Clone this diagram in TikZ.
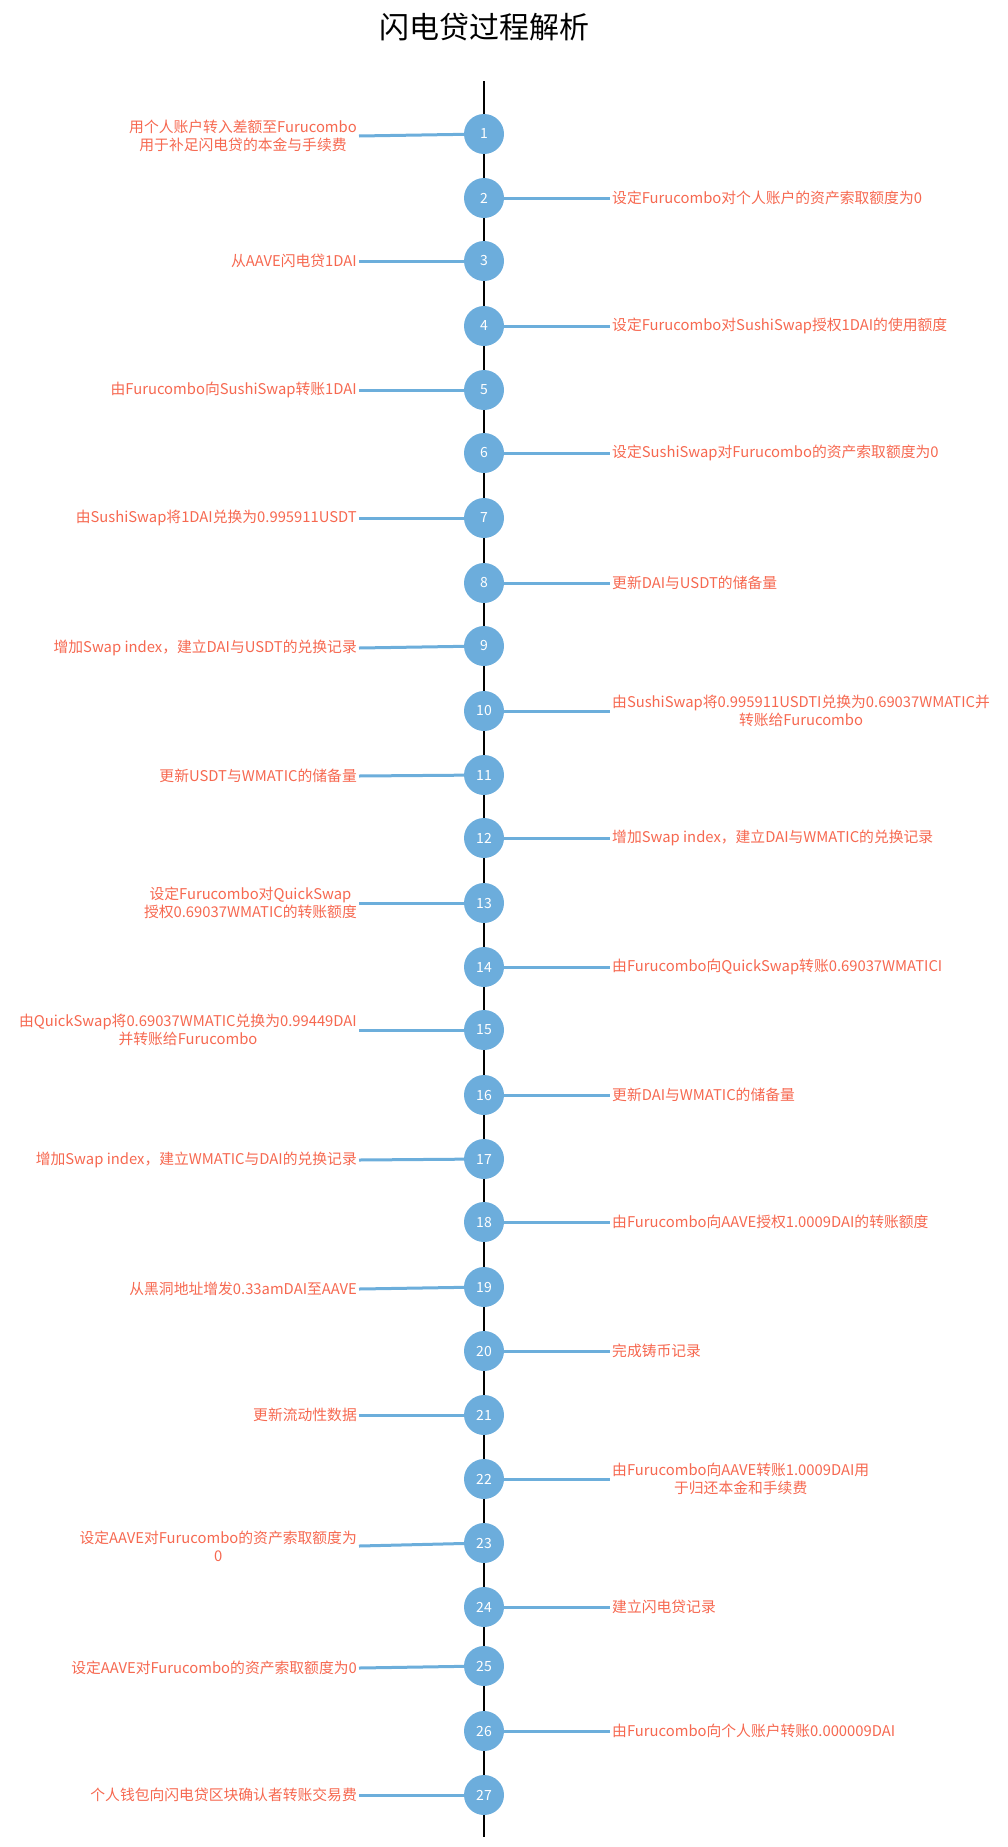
\documentclass[tikz,border=0pt]{standalone}
\usepackage{fontspec}
\setmainfont{Noto Sans CJK SC}
\definecolor{nodeblue}{RGB}{108,173,220}
\definecolor{lineblue}{RGB}{108,174,219}
\definecolor{labelred}{RGB}{246,104,80}
\begin{document}
\begin{tikzpicture}[x=1pt,y=-1pt,
  stepnode/.style={circle,fill=nodeblue,minimum size=40pt,inner sep=0pt,text=white,font=\fontsize{14}{16}\selectfont},
  leftlabel/.style={anchor=east,inner xsep=2pt,inner ysep=0pt,align=center,text=labelred,font=\fontsize{14.8}{18}\selectfont},
  rightlabel/.style={anchor=west,inner xsep=2pt,inner ysep=0pt,align=center,text=labelred,font=\fontsize{14.8}{18}\selectfont},
  link/.style={draw=lineblue,line width=3pt},
  spine/.style={draw=black,line width=2pt}]
\useasboundingbox (0,0) rectangle (1008,1847);
\node[font=\fontsize{30}{33}\selectfont] (title) at (484,27) {闪电贷过程解析};
\coordinate (top) at (484,81);
\coordinate (bottom) at (484,1837);
\draw[spine] (top) -- (bottom);
\foreach \i/\y in {1/134,2/198,3/261,4/326,5/390,6/453,7/518,8/583,9/646,10/711,11/775,12/838,13/903,14/967,15/1030,16/1095,17/1159,18/1222,19/1287,20/1351,21/1415,22/1479,23/1543,24/1607,25/1666,26/1731,27/1795}
  \node[stepnode] (n\i) at (484,\y) {\i};
\foreach \i/\y/\txt in {
  1/136/{用个人账户转入差额至Furucombo\\用于补足闪电贷的本金与手续费},
  3/261/{从AAVE闪电贷1DAI},
  5/390/{由Furucombo向SushiSwap转账1DAI},
  7/518/{由SushiSwap将1DAI兑换为0.995911USDT},
  9/648/{增加Swap index，建立DAI与USDT的兑换记录},
  11/776/{更新USDT与WMATIC的储备量},
  13/903/{设定Furucombo对QuickSwap\\授权0.69037WMATIC的转账额度},
  15/1030/{由QuickSwap将0.69037WMATIC兑换为0.99449DAI\\并转账给Furucombo},
  17/1160/{增加Swap index，建立WMATIC与DAI的兑换记录},
  19/1289/{从黑洞地址增发0.33amDAI至AAVE},
  21/1415/{更新流动性数据},
  23/1546/{设定AAVE对Furucombo的资产索取额度为\\0},
  25/1668/{设定AAVE对Furucombo的资产索取额度为0},
  27/1795/{个人钱包向闪电贷区块确认者转账交易费}}
{
  \node[leftlabel] (t\i) at (359,\y) {\txt};
  \draw[link] (n\i) -- (t\i.east);
}
\foreach \i/\y/\txt in {
  2/198/{设定Furucombo对个人账户的资产索取额度为0},
  4/326/{设定Furucombo对SushiSwap授权1DAI的使用额度},
  6/453/{设定SushiSwap对Furucombo的资产索取额度为0},
  8/583/{更新DAI与USDT的储备量},
  10/711/{由SushiSwap将0.995911USDTI兑换为0.69037WMATIC并\\转账给Furucombo},
  12/838/{增加Swap index，建立DAI与WMATIC的兑换记录},
  14/967/{由Furucombo向QuickSwap转账0.69037WMATICI},
  16/1095/{更新DAI与WMATIC的储备量},
  18/1222/{由Furucombo向AAVE授权1.0009DAI的转账额度},
  20/1351/{完成铸币记录},
  22/1479/{由Furucombo向AAVE转账1.0009DAI用\\于归还本金和手续费},
  24/1607/{建立闪电贷记录},
  26/1731/{由Furucombo向个人账户转账0.000009DAI}}
{
  \node[rightlabel] (t\i) at (610,\y) {\txt};
  \draw[link] (n\i) -- (t\i.west);
}
\end{tikzpicture}
\end{document}
